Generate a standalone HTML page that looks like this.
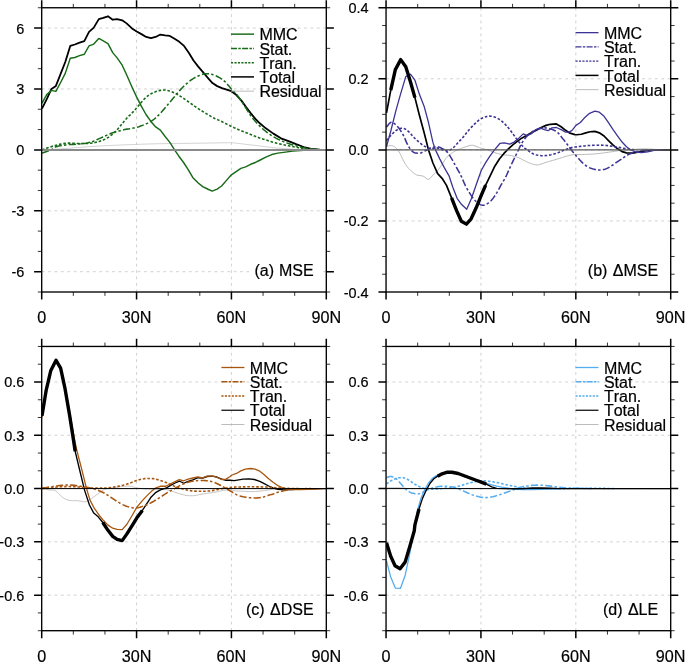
<!DOCTYPE html>
<html><head><meta charset="utf-8"><title>chart</title>
<style>
html,body{margin:0;padding:0;background:#fff}
svg{display:block;will-change:transform}
text{font-kerning:none;stroke:#000;stroke-width:0.2px}
.t{font-family:"Liberation Sans",sans-serif;font-size:15.4px;fill:#000}
.x{font-family:"Liberation Sans",sans-serif;font-size:17.4px;fill:#000}
.l{font-family:"Liberation Sans",sans-serif;font-size:16px;fill:#000}
</style></head><body>
<svg width="685" height="662" viewBox="0 0 685 662">
<rect width="685" height="662" fill="#fff"/>
<defs>
<clipPath id="clipa"><rect x="41.7" y="7.75" width="284.6" height="284.25"/></clipPath>
<clipPath id="clipb"><rect x="386.05" y="7.75" width="284.65" height="284.25"/></clipPath>
<clipPath id="clipc"><rect x="41.7" y="346.45" width="284.6" height="284.25"/></clipPath>
<clipPath id="clipd"><rect x="386.05" y="346.45" width="284.65" height="284.25"/></clipPath>
</defs>
<g>
<path d="M136.57 7.75 V292 M231.43 7.75 V292 M41.7 271.7 H326.3 M41.7 210.79 H326.3 M41.7 149.88 H326.3 M41.7 88.96 H326.3 M41.7 28.05 H326.3" fill="none" stroke="#c2c2c2" stroke-width="0.75" stroke-dasharray="2.8 3.6"/>
<g clip-path="url(#clipa)">
<path d="M42 149.88 L43.72 149.79 L46.09 149.68 L48.91 149.55 L51.94 149.39 L54.97 149.23 L57.78 149.06 L60.41 148.88 L63.04 148.69 L65.67 148.48 L68.31 148.27 L70.94 148.05 L73.57 147.84 L76.2 147.64 L78.83 147.43 L81.46 147.22 L84.09 147.01 L86.72 146.81 L89.35 146.63 L91.98 146.45 L94.61 146.29 L97.24 146.14 L99.87 145.99 L102.5 145.85 L105.13 145.71 L107.76 145.58 L110.39 145.46 L113.03 145.34 L115.66 145.22 L118.29 145.11 L120.92 145 L123.55 144.89 L126.18 144.79 L128.81 144.68 L131.44 144.58 L134.07 144.49 L136.7 144.39 L139.26 144.3 L141.73 144.21 L144.2 144.13 L146.75 144.04 L149.49 143.96 L152.48 143.89 L155.76 143.81 L159.26 143.74 L162.94 143.67 L166.75 143.6 L170.64 143.54 L174.58 143.48 L178.61 143.42 L182.76 143.37 L187.01 143.33 L191.3 143.28 L195.59 143.23 L199.83 143.17 L204.26 143.11 L208.95 143.03 L213.64 142.95 L218.07 142.88 L221.97 142.81 L225.09 142.77 L227.17 142.73 L228.4 142.69 L229.09 142.67 L229.6 142.66 L230.26 142.69 L231.4 142.77 L233 142.89 L234.77 143.06 L236.69 143.26 L238.73 143.49 L240.87 143.73 L243.08 143.99 L245.4 144.26 L247.87 144.55 L250.44 144.86 L253.05 145.18 L255.67 145.5 L258.23 145.81 L260.76 146.13 L263.28 146.45 L265.81 146.77 L268.33 147.08 L270.86 147.37 L273.38 147.64 L275.91 147.88 L278.43 148.11 L280.96 148.31 L283.49 148.51 L286.01 148.69 L288.54 148.86 L290.98 149.03 L293.32 149.18 L295.66 149.33 L298.1 149.46 L300.74 149.58 L303.69 149.67 L307.26 149.74 L311.45 149.79 L315.84 149.82 L320.02 149.84 L323.58 149.86 L326.1 149.88" fill="none" stroke="#c6c6c6" stroke-width="0.8" stroke-linejoin="round"/>
<path d="M42 108.66 L46.74 99.12 L51.47 88.96 L55.89 85.92 L60.62 73.94 L65.36 61.76 L70.25 45.92 L74.83 44.5 L79.56 42.67 L84.3 41.05 L89.03 31.91 L93.77 27.65 L98.82 19.12 L103.24 17.9 L107.97 16.28 L112.71 19.73 L117.13 19.12 L122.18 20.34 L126.6 23.38 L131.97 28.46 L136.7 31.51 L141.44 34.14 L146.17 36.99 L150.91 38.21 L155.64 36.99 L160.38 34.55 L165.11 35.36 L169.85 35.97 L174.58 38.81 L179.31 41.86 L184.05 45.92 L189.1 53.23 L193.52 60.54 L198.25 66.63 L202.99 72.11 L207.41 77.39 L212.46 83.08 L217.2 86.12 L221.93 88.15 L226.67 89.57 L231.4 91.2 L236.45 95.06 L241.82 101.15 L246.24 107.24 L250.66 113.13 L255.39 118.81 L259.81 123.28 L265.81 128.35 L273.38 133.63 L280.96 138.3 L288.54 141.14 L296.11 144.19 L303.69 147.03 L311.26 148.86 L319.79 149.67 L326.1 149.88" fill="none" stroke="#000" stroke-width="1.8" stroke-linejoin="round"/>
<path d="M42 103.18 L46.74 94.65 L51.47 90.39 L55.89 91.4 L60.62 82.47 L65.36 73.13 L70.25 58.31 L74.83 57.49 L79.56 55.67 L84.3 54.25 L89.03 45.92 L93.77 44.09 L98.82 38.41 L103.24 40.84 L107.97 43.69 L112.71 52.62 L117.13 57.9 L122.18 65.21 L126.6 74.75 L131.97 86.93 L136.7 97.09 L141.44 106.43 L146.17 114.75 L150.91 121.45 L155.64 126.93 L160.38 130.18 L165.11 136.47 L169.85 142.36 L174.58 149.88 L178.68 155.97 L183.42 162.26 L188.47 170.18 L192.89 177.69 L198.25 182.97 L202.67 186.62 L208.04 189.26 L212.14 191.09 L217.2 189.06 L221.61 186.02 L226.67 180.13 L231.4 174.85 L236.14 171.6 L240.87 168.35 L245.61 166.93 L250.66 164.29 L255.39 162.46 L259.81 160.23 L265.81 157.18 L271.81 154.54 L277.8 153.12 L285.38 152.11 L292.96 151.09 L303.69 150.28 L312.53 149.88" fill="none" stroke="#176b17" stroke-width="1.45" stroke-linejoin="round"/>
<path d="M42 153.12 L43.01 152.77 L44.43 152.27 L46.1 151.69 L47.85 151.06 L49.48 150.44 L50.84 149.88 L51.84 149.34 L52.63 148.8 L53.3 148.27 L54 147.75 L54.82 147.27 L55.89 146.83 L57.22 146.43 L58.71 146.06 L60.33 145.73 L62.05 145.42 L63.84 145.14 L65.68 144.9 L67.58 144.71 L69.6 144.58 L71.69 144.48 L73.81 144.39 L75.92 144.26 L77.99 144.09 L80.02 143.88 L82.07 143.67 L84.1 143.44 L86.11 143.16 L88.08 142.81 L89.98 142.36 L91.79 141.81 L93.5 141.17 L95.17 140.45 L96.84 139.69 L98.57 138.9 L100.4 138.1 L102.34 137.25 L104.37 136.34 L106.46 135.4 L108.56 134.47 L110.65 133.59 L112.71 132.82 L114.8 132.13 L116.97 131.5 L119.13 130.92 L121.2 130.41 L123.09 129.95 L124.7 129.57 L125.98 129.29 L126.98 129.11 L127.79 128.99 L128.53 128.91 L129.3 128.81 L130.2 128.66 L131.22 128.47 L132.27 128.29 L133.36 128.09 L134.46 127.88 L135.58 127.63 L136.7 127.34 L137.83 127.01 L138.97 126.65 L140.12 126.25 L141.29 125.83 L142.46 125.38 L143.64 124.9 L144.84 124.41 L146.06 123.89 L147.29 123.35 L148.52 122.77 L149.73 122.14 L150.91 121.45 L152.05 120.69 L153.18 119.87 L154.3 119 L155.39 118.09 L156.47 117.14 L157.53 116.17 L158.57 115.17 L159.58 114.12 L160.57 113.04 L161.56 111.93 L162.54 110.81 L163.53 109.67 L164.53 108.52 L165.53 107.35 L166.53 106.16 L167.53 104.96 L168.53 103.76 L169.53 102.57 L170.53 101.38 L171.53 100.19 L172.53 99 L173.53 97.82 L174.53 96.63 L175.53 95.46 L176.53 94.29 L177.53 93.1 L178.53 91.92 L179.53 90.76 L180.53 89.64 L181.52 88.56 L182.52 87.53 L183.52 86.53 L184.52 85.56 L185.52 84.63 L186.52 83.74 L187.52 82.87 L188.52 82.04 L189.51 81.24 L190.5 80.47 L191.5 79.74 L192.5 79.05 L193.52 78.41 L194.56 77.8 L195.61 77.23 L196.68 76.71 L197.74 76.22 L198.8 75.77 L199.83 75.36 L200.85 74.98 L201.86 74.63 L202.85 74.32 L203.84 74.06 L204.84 73.86 L205.83 73.74 L206.83 73.69 L207.83 73.71 L208.83 73.79 L209.83 73.92 L210.83 74.11 L211.83 74.35 L212.83 74.63 L213.83 74.97 L214.83 75.36 L215.83 75.8 L216.83 76.27 L217.83 76.78 L218.85 77.34 L219.9 77.95 L220.94 78.6 L221.97 79.27 L222.93 79.96 L223.82 80.64 L224.62 81.33 L225.36 82.04 L226.03 82.76 L226.68 83.48 L227.3 84.2 L227.93 84.9 L228.52 85.58 L229.07 86.23 L229.6 86.87 L230.15 87.53 L230.74 88.22 L231.4 88.96 L232.15 89.75 L232.95 90.55 L233.81 91.39 L234.69 92.27 L235.57 93.22 L236.45 94.24 L237.34 95.37 L238.25 96.6 L239.17 97.9 L240.09 99.21 L240.97 100.51 L241.82 101.76 L242.61 102.94 L243.36 104.1 L244.09 105.25 L244.8 106.38 L245.51 107.52 L246.24 108.66 L246.97 109.82 L247.7 111 L248.43 112.17 L249.16 113.34 L249.9 114.47 L250.66 115.56 L251.43 116.62 L252.22 117.64 L253.02 118.65 L253.82 119.62 L254.62 120.55 L255.39 121.45 L256.13 122.29 L256.83 123.07 L257.52 123.82 L258.23 124.56 L258.99 125.32 L259.81 126.12 L260.7 126.96 L261.63 127.83 L262.61 128.72 L263.63 129.62 L264.7 130.51 L265.81 131.4 L266.98 132.3 L268.22 133.21 L269.5 134.13 L270.8 135.02 L272.1 135.88 L273.38 136.68 L274.65 137.41 L275.91 138.1 L277.17 138.75 L278.43 139.36 L279.7 139.96 L280.96 140.54 L282.22 141.1 L283.49 141.64 L284.75 142.16 L286.01 142.66 L287.27 143.13 L288.54 143.58 L289.8 144 L291.06 144.39 L292.32 144.76 L293.59 145.11 L294.85 145.46 L296.11 145.81 L297.37 146.17 L298.64 146.54 L299.9 146.89 L301.16 147.24 L302.43 147.56 L303.69 147.84 L304.92 148.1 L306.12 148.33 L307.32 148.53 L308.55 148.72 L309.85 148.89 L311.26 149.06 L312.92 149.23 L314.82 149.39 L316.79 149.55 L318.65 149.68 L320.24 149.79 L321.37 149.88" fill="none" stroke="#176b17" stroke-width="1.55" stroke-dasharray="7.2 2.2 2.5 2.3" stroke-linejoin="round"/>
<path d="M42 149.88 L43.46 149.36 L45.48 148.63 L47.88 147.78 L50.44 146.9 L52.97 146.08 L55.26 145.41 L57.33 144.88 L59.34 144.4 L61.31 143.99 L63.28 143.64 L65.25 143.37 L67.25 143.17 L69.28 143.1 L71.3 143.15 L73.33 143.28 L75.38 143.42 L77.45 143.54 L79.56 143.58 L81.73 143.58 L83.95 143.57 L86.19 143.54 L88.44 143.45 L90.66 143.27 L92.82 142.97 L94.95 142.56 L97.07 142.07 L99.16 141.49 L101.21 140.81 L103.2 140.02 L105.13 139.11 L106.96 138.13 L108.69 137.07 L110.36 135.9 L112.03 134.59 L113.74 133.11 L115.55 131.4 L117.57 129.27 L119.78 126.7 L122.03 123.95 L124.18 121.28 L126.07 118.94 L127.55 117.19 L128.48 116.18 L128.98 115.73 L129.21 115.63 L129.37 115.61 L129.64 115.47 L130.2 114.95 L131.03 114.08 L132 113.04 L133.08 111.87 L134.24 110.59 L135.45 109.24 L136.7 107.85 L138.01 106.32 L139.43 104.63 L140.89 102.86 L142.38 101.12 L143.83 99.5 L145.22 98.1 L146.54 96.93 L147.82 95.91 L149.07 95 L150.31 94.21 L151.55 93.49 L152.8 92.82 L154.11 92.23 L155.46 91.72 L156.82 91.3 L158.13 90.94 L159.33 90.64 L160.38 90.39 L161.21 90.18 L161.86 90.05 L162.41 89.97 L162.92 89.93 L163.48 89.94 L164.16 89.98 L164.96 90.05 L165.81 90.16 L166.71 90.31 L167.64 90.5 L168.58 90.73 L169.53 90.99 L170.47 91.29 L171.42 91.62 L172.39 91.98 L173.39 92.4 L174.43 92.88 L175.53 93.43 L176.7 94.07 L177.94 94.8 L179.22 95.59 L180.52 96.42 L181.82 97.26 L183.1 98.1 L184.37 98.95 L185.63 99.82 L186.89 100.7 L188.15 101.6 L189.42 102.49 L190.68 103.38 L191.94 104.27 L193.2 105.16 L194.47 106.06 L195.73 106.94 L196.99 107.81 L198.25 108.66 L199.52 109.47 L200.78 110.27 L202.04 111.04 L203.31 111.81 L204.57 112.57 L205.83 113.33 L207.09 114.1 L208.36 114.87 L209.62 115.64 L210.88 116.39 L212.14 117.11 L213.41 117.8 L214.68 118.43 L215.96 119.02 L217.23 119.58 L218.5 120.13 L219.76 120.68 L220.98 121.25 L222.17 121.82 L223.32 122.39 L224.46 122.96 L225.59 123.53 L226.74 124.11 L227.93 124.7 L229.15 125.3 L230.41 125.92 L231.68 126.55 L232.95 127.17 L234.23 127.78 L235.5 128.35 L236.77 128.9 L238.03 129.41 L239.29 129.91 L240.55 130.41 L241.82 130.9 L243.08 131.4 L244.34 131.91 L245.61 132.41 L246.87 132.92 L248.13 133.43 L249.39 133.94 L250.66 134.44 L251.92 134.96 L253.18 135.48 L254.44 136.01 L255.71 136.52 L256.97 137.02 L258.23 137.49 L259.49 137.93 L260.76 138.35 L262.02 138.75 L263.28 139.14 L264.55 139.53 L265.81 139.93 L267.07 140.34 L268.33 140.76 L269.6 141.18 L270.86 141.6 L272.12 141.99 L273.38 142.36 L274.65 142.7 L275.91 143.02 L277.17 143.33 L278.43 143.62 L279.7 143.9 L280.96 144.19 L282.22 144.47 L283.49 144.75 L284.75 145.03 L286.01 145.3 L287.27 145.56 L288.54 145.81 L289.8 146.07 L291.06 146.31 L292.32 146.55 L293.59 146.78 L294.85 147.01 L296.11 147.24 L297.37 147.46 L298.64 147.67 L299.9 147.88 L301.16 148.09 L302.43 148.28 L303.69 148.45 L304.92 148.61 L306.12 148.76 L307.32 148.9 L308.55 149.03 L309.85 149.15 L311.26 149.27 L312.92 149.39 L314.82 149.51 L316.79 149.62 L318.65 149.72 L320.24 149.81 L321.37 149.88" fill="none" stroke="#176b17" stroke-width="1.6" stroke-dasharray="2.6 1.85" stroke-linejoin="round"/>
<path d="M41.7 149.88 H326.3" stroke="#8a8a8a" stroke-width="2.0"/>
</g>
<rect x="41.7" y="7.75" width="284.6" height="284.25" fill="none" stroke="#000" stroke-width="1.35"/>
<path d="M41.7 7.75 v-7.6 M41.7 292 v7.6 M136.57 7.75 v-7.6 M136.57 292 v7.6 M231.43 7.75 v-7.6 M231.43 292 v7.6 M326.3 7.75 v-7.6 M326.3 292 v7.6 M41.7 271.7 h-7.6 M326.3 271.7 h7.6 M41.7 210.79 h-7.6 M326.3 210.79 h7.6 M41.7 149.88 h-7.6 M326.3 149.88 h7.6 M41.7 88.96 h-7.6 M326.3 88.96 h7.6 M41.7 28.05 h-7.6 M326.3 28.05 h7.6" fill="none" stroke="#000" stroke-width="1.5"/>
<path d="M73.32 7.75 v-3.9 M73.32 292 v3.9 M104.94 7.75 v-3.9 M104.94 292 v3.9 M168.19 7.75 v-3.9 M168.19 292 v3.9 M199.81 7.75 v-3.9 M199.81 292 v3.9 M263.06 7.75 v-3.9 M263.06 292 v3.9 M294.68 7.75 v-3.9 M294.68 292 v3.9 M41.7 292 h-3.9 M326.3 292 h3.9 M41.7 251.39 h-3.9 M326.3 251.39 h3.9 M41.7 231.09 h-3.9 M326.3 231.09 h3.9 M41.7 190.48 h-3.9 M326.3 190.48 h3.9 M41.7 170.18 h-3.9 M326.3 170.18 h3.9 M41.7 129.57 h-3.9 M326.3 129.57 h3.9 M41.7 109.27 h-3.9 M326.3 109.27 h3.9 M41.7 68.66 h-3.9 M326.3 68.66 h3.9 M41.7 48.36 h-3.9 M326.3 48.36 h3.9 M41.7 7.75 h-3.9 M326.3 7.75 h3.9" fill="none" stroke="#000" stroke-width="0.8"/>
<text transform="translate(24.3 277.2) scale(0.94 1)" text-anchor="end" class="t">-6</text>
<text transform="translate(24.3 216.29) scale(0.94 1)" text-anchor="end" class="t">-3</text>
<text transform="translate(24.3 155.38) scale(0.94 1)" text-anchor="end" class="t">0</text>
<text transform="translate(24.3 94.46) scale(0.94 1)" text-anchor="end" class="t">3</text>
<text transform="translate(24.3 33.55) scale(0.94 1)" text-anchor="end" class="t">6</text>
<text transform="translate(41.7 323.05) scale(0.93 1)" text-anchor="middle" class="x">0</text>
<text transform="translate(136.57 323.05) scale(0.93 1)" text-anchor="middle" class="x">30N</text>
<text transform="translate(231.43 323.05) scale(0.93 1)" text-anchor="middle" class="x">60N</text>
<text transform="translate(326.3 323.05) scale(0.93 1)" text-anchor="middle" class="x">90N</text>
<path d="M231 34.15 h23" stroke="#176b17" stroke-width="1.45"/>
<text x="259.4" y="40.25" class="l">MMC</text>
<path d="M231 48.4 h23" stroke="#176b17" stroke-width="1.45" stroke-dasharray="6 1.35 2.45 1.3"/>
<text x="259.4" y="54.5" class="l">Stat.</text>
<path d="M231 62.65 h23" stroke="#176b17" stroke-width="1.45" stroke-dasharray="2.15 1.3"/>
<text x="259.4" y="68.75" class="l">Tran.</text>
<path d="M231 76.9 h23" stroke="#000" stroke-width="1.5"/>
<text x="259.4" y="83" class="l">Total</text>
<path d="M231 91.15 h23" stroke="#b4b4b4" stroke-width="0.9"/>
<text x="259.4" y="97.25" class="l">Residual</text>
<rect x="249.1" y="261.5" width="71" height="18" fill="#fff"/>
<text x="313.7" y="275.9" text-anchor="end" class="l" style="word-spacing:0.6px">(a) MSE</text>
</g>
<g>
<path d="M480.93 7.75 V292 M575.82 7.75 V292 M386.05 220.94 H670.7 M386.05 149.88 H670.7 M386.05 78.81 H670.7" fill="none" stroke="#c2c2c2" stroke-width="0.75" stroke-dasharray="2.8 3.6"/>
<g clip-path="url(#clipb)">
<path d="M386.5 146.32 L387.06 146.21 L387.83 146.03 L388.75 145.82 L389.73 145.65 L390.69 145.56 L391.55 145.61 L392.33 145.79 L393.1 146.05 L393.84 146.4 L394.57 146.83 L395.28 147.34 L395.97 147.92 L396.64 148.58 L397.28 149.33 L397.91 150.15 L398.52 151.05 L399.14 152.03 L399.76 153.07 L400.39 154.23 L401 155.52 L401.62 156.88 L402.24 158.26 L402.88 159.62 L403.55 160.89 L404.25 162.1 L404.97 163.3 L405.7 164.47 L406.45 165.59 L407.21 166.65 L407.97 167.64 L408.75 168.55 L409.54 169.4 L410.34 170.19 L411.14 170.93 L411.93 171.62 L412.71 172.26 L413.45 172.86 L414.15 173.4 L414.84 173.9 L415.55 174.35 L416.31 174.75 L417.13 175.1 L418.05 175.36 L419.04 175.51 L420.07 175.61 L421.12 175.72 L422.15 175.89 L423.13 176.17 L424.07 176.66 L425 177.35 L425.91 178.1 L426.8 178.77 L427.67 179.24 L428.5 179.37 L429.29 179.09 L430.03 178.51 L430.75 177.72 L431.46 176.83 L432.18 175.92 L432.92 175.1 L433.69 174.37 L434.49 173.64 L435.29 172.9 L436.09 172.14 L436.88 171.34 L437.66 170.48 L438.41 169.57 L439.15 168.6 L439.89 167.6 L440.61 166.56 L441.34 165.51 L442.08 164.44 L442.8 163.33 L443.52 162.17 L444.23 160.98 L444.95 159.81 L445.71 158.7 L446.5 157.69 L447.34 156.78 L448.24 155.93 L449.16 155.14 L450.09 154.4 L451 153.72 L451.87 153.07 L452.68 152.49 L453.44 151.97 L454.19 151.51 L454.95 151.07 L455.75 150.65 L456.6 150.23 L457.5 149.82 L458.4 149.43 L459.35 149.06 L460.35 148.7 L461.42 148.32 L462.6 147.92 L463.94 147.45 L465.43 146.89 L467 146.33 L468.58 145.83 L470.08 145.45 L471.44 145.26 L472.68 145.3 L473.84 145.55 L474.94 145.91 L475.96 146.33 L476.9 146.73 L477.76 147.03 L478.46 147.24 L478.99 147.4 L479.44 147.54 L479.9 147.69 L480.47 147.87 L481.23 148.1 L482.22 148.38 L483.36 148.7 L484.61 149.05 L485.91 149.43 L487.22 149.82 L488.5 150.23 L489.74 150.68 L491 151.16 L492.27 151.67 L493.54 152.18 L494.81 152.65 L496.07 153.07 L497.34 153.44 L498.6 153.78 L499.86 154.09 L501.13 154.38 L502.39 154.63 L503.65 154.85 L504.92 155.01 L506.18 155.11 L507.44 155.17 L508.71 155.24 L509.97 155.36 L511.23 155.56 L512.5 155.84 L513.76 156.16 L515.02 156.53 L516.28 156.94 L517.55 157.38 L518.81 157.87 L520.09 158.42 L521.4 159.05 L522.7 159.72 L523.98 160.4 L525.22 161.03 L526.39 161.6 L527.48 162.11 L528.51 162.59 L529.49 163.03 L530.45 163.44 L531.41 163.79 L532.39 164.09 L533.37 164.35 L534.33 164.57 L535.29 164.75 L536.27 164.86 L537.3 164.89 L538.39 164.8 L539.56 164.56 L540.8 164.19 L542.08 163.73 L543.38 163.23 L544.69 162.74 L545.97 162.31 L547.23 161.94 L548.49 161.58 L549.76 161.23 L551.02 160.89 L552.28 160.54 L553.55 160.18 L554.81 159.8 L556.07 159.42 L557.34 159.04 L558.6 158.65 L559.86 158.26 L561.13 157.87 L562.4 157.47 L563.7 157.05 L564.99 156.64 L566.27 156.24 L567.51 155.87 L568.7 155.56 L569.83 155.3 L570.9 155.07 L571.94 154.88 L572.96 154.72 L573.98 154.6 L575.02 154.49 L576.02 154.44 L576.97 154.43 L577.92 154.45 L578.93 154.48 L580.04 154.5 L581.33 154.49 L582.83 154.46 L584.49 154.43 L586.27 154.38 L588.11 154.32 L589.95 154.24 L591.76 154.14 L593.55 154 L595.38 153.84 L597.22 153.66 L599.04 153.47 L600.81 153.27 L602.49 153.07 L604.05 152.88 L605.51 152.68 L606.91 152.48 L608.32 152.28 L609.77 152.06 L611.33 151.83 L613.01 151.57 L614.77 151.29 L616.58 151 L618.42 150.71 L620.26 150.45 L622.07 150.23 L623.88 150.06 L625.72 149.93 L627.56 149.82 L629.37 149.72 L631.13 149.63 L632.81 149.52 L634.38 149.39 L635.85 149.24 L637.27 149.1 L638.68 148.97 L640.12 148.87 L641.65 148.81 L643.25 148.8 L644.89 148.84 L646.56 148.9 L648.27 148.98 L650 149.07 L651.75 149.16 L653.58 149.27 L655.48 149.4 L657.42 149.54 L659.32 149.68 L661.14 149.79 L662.81 149.88 L664.4 149.92 L665.96 149.93 L667.44 149.92 L668.77 149.9 L669.88 149.88 L670.7 149.88" fill="none" stroke="#a8a8a8" stroke-width="0.8" stroke-linejoin="round"/>
<path d="M386.5 112.92 L390.76 90.18 L395.34 69.57 L400.71 59.63 L405.76 66.73 L410.5 82.01 L414.92 97.64 L419.34 115.05 L424.08 132.46 L428.5 149.88 L432.92 163.02 L437.66 173.68 L442.08 178.3 L446.5 185.41 L451.55 197.84 L456.6 210.63 L461.34 221.29 L466.39 224.14 L471.13 218.81 L476.18 207.79 L481.23 195.36 L485.65 185.05 L490.39 175.28 L494.81 166.22 L499.55 158.76 L503.97 153.43 L508.07 149.16 L512.81 144.9 L517.23 141.35 L521.65 138.15 L527.02 135.31 L532.39 132.11 L536.81 129.98 L541.23 127.49 L545.97 125.36 L550.39 124.29 L556.39 123.94 L561.13 126.78 L565.55 130.33 L569.97 133.18 L575.02 134.6 L576.6 134.77 L581.33 134.24 L585.76 132.82 L590.18 131.75 L594.91 131.4 L599.33 132.82 L604.07 136.02 L608.49 140.64 L612.91 144.9 L617.65 148.81 L622.07 151.65 L626.49 152.9 L632.81 153.07 L638.81 152.01 L644.81 150.94 L652.38 150.23 L662.81 149.88 L670.7 149.88" fill="none" stroke="#000" stroke-width="1.7" stroke-linejoin="round"/>
<path d="M386.5 146.68 L390.61 131.75 L395.97 110.44 L400.55 94.09 L405.76 76.68 L410.5 74.19 L414.92 80.23 L419.34 94.09 L424.08 106.17 L428.5 122.52 L432.92 142.41 L435.45 149.88 L439.87 159.11 L444.29 167.64 L449.02 175.81 L452.81 187.18 L457.23 198.55 L461.66 204.59 L466.71 209.21 L471.44 198.55 L476.18 184.7 L481.23 170.48 L485.65 162.67 L490.08 155.92 L494.5 149.88 L499.86 143.48 L504.29 142.77 L509.65 144.19 L514.07 142.06 L518.81 138.15 L523.23 133.89 L527.02 135.66 L531.44 133.71 L535.23 129.98 L539.97 127.85 L544.39 129.62 L548.18 130.69 L551.97 127.85 L556.39 127.49 L561.13 129.62 L565.55 132.11 L569.34 132.11 L572.49 129.98 L575.97 125.36 L580.39 122.52 L585.12 117.19 L589.55 113.28 L594.91 111.15 L599.33 112.21 L604.07 116.3 L608.49 122.52 L612.91 129.27 L617.65 136.02 L622.07 142.06 L626.49 146.68 L631.23 150.23 L635.65 152.01 L641.65 152.72 L647.65 151.83 L655.23 150.23 L662.81 149.88" fill="none" stroke="#3c3494" stroke-width="1.3" stroke-linejoin="round"/>
<path d="M386.5 127.14 L386.95 126.57 L387.58 125.73 L388.32 124.76 L389.11 123.81 L389.89 123.01 L390.61 122.52 L391.24 122.32 L391.86 122.31 L392.46 122.45 L393.07 122.73 L393.71 123.11 L394.39 123.58 L395.13 124.16 L395.91 124.87 L396.72 125.69 L397.54 126.6 L398.35 127.56 L399.13 128.56 L399.89 129.59 L400.63 130.67 L401.36 131.81 L402.09 133.02 L402.82 134.3 L403.55 135.66 L404.29 137.18 L405.01 138.85 L405.74 140.6 L406.48 142.34 L407.22 143.98 L407.97 145.43 L408.76 146.73 L409.56 147.95 L410.38 149.06 L411.19 150.07 L411.97 150.93 L412.71 151.65 L413.39 152.18 L414.02 152.54 L414.62 152.76 L415.22 152.9 L415.84 152.98 L416.5 153.07 L417.19 153.16 L417.89 153.22 L418.61 153.24 L419.35 153.2 L420.12 153.09 L420.92 152.9 L421.75 152.6 L422.62 152.2 L423.51 151.73 L424.42 151.22 L425.35 150.71 L426.29 150.23 L427.26 149.74 L428.26 149.21 L429.29 148.68 L430.31 148.17 L431.32 147.73 L432.29 147.39 L433.22 147.14 L434.14 146.95 L435.03 146.82 L435.91 146.76 L436.79 146.77 L437.66 146.85 L438.52 147.02 L439.38 147.26 L440.22 147.58 L441.06 147.95 L441.89 148.36 L442.71 148.81 L443.52 149.27 L444.32 149.76 L445.12 150.29 L445.9 150.88 L446.68 151.57 L447.45 152.36 L448.2 153.28 L448.93 154.31 L449.66 155.43 L450.38 156.61 L451.11 157.85 L451.87 159.11 L452.64 160.44 L453.43 161.84 L454.23 163.29 L455.04 164.76 L455.83 166.22 L456.6 167.64 L457.36 169 L458.1 170.33 L458.83 171.64 L459.56 172.97 L460.29 174.35 L461.02 175.81 L461.76 177.39 L462.49 179.06 L463.21 180.79 L463.95 182.51 L464.69 184.19 L465.44 185.76 L466.22 187.25 L467.01 188.7 L467.81 190.09 L468.61 191.43 L469.41 192.72 L470.18 193.93 L470.94 195.09 L471.68 196.18 L472.41 197.22 L473.14 198.2 L473.87 199.12 L474.6 199.97 L475.35 200.78 L476.1 201.53 L476.85 202.22 L477.6 202.84 L478.32 203.4 L479.02 203.88 L479.69 204.29 L480.34 204.63 L480.98 204.9 L481.6 205.11 L482.21 205.24 L482.81 205.3 L483.39 205.3 L483.95 205.22 L484.49 205.08 L485.05 204.87 L485.64 204.59 L486.29 204.24 L487 203.83 L487.76 203.36 L488.56 202.82 L489.37 202.2 L490.2 201.49 L491.02 200.68 L491.85 199.77 L492.69 198.74 L493.55 197.62 L494.4 196.43 L495.25 195.2 L496.07 193.93 L496.88 192.61 L497.68 191.21 L498.46 189.76 L499.24 188.29 L500.03 186.83 L500.81 185.41 L501.6 184.06 L502.38 182.76 L503.16 181.48 L503.95 180.16 L504.74 178.76 L505.55 177.23 L506.38 175.55 L507.22 173.73 L508.07 171.84 L508.93 169.92 L509.77 168.03 L510.6 166.22 L511.43 164.46 L512.26 162.69 L513.09 160.96 L513.89 159.28 L514.64 157.71 L515.34 156.27 L515.96 155 L516.51 153.88 L517.01 152.85 L517.5 151.88 L517.99 150.9 L518.5 149.88 L519 148.81 L519.49 147.76 L519.98 146.7 L520.48 145.64 L521.04 144.57 L521.65 143.48 L522.35 142.34 L523.13 141.15 L523.94 139.95 L524.78 138.78 L525.6 137.69 L526.39 136.73 L527.14 135.9 L527.89 135.18 L528.62 134.53 L529.35 133.94 L530.08 133.38 L530.81 132.82 L531.54 132.27 L532.27 131.74 L533 131.24 L533.73 130.78 L534.48 130.36 L535.23 129.98 L536.01 129.65 L536.8 129.37 L537.6 129.13 L538.4 128.92 L539.19 128.74 L539.97 128.56 L540.72 128.38 L541.47 128.21 L542.2 128.07 L542.93 127.95 L543.66 127.87 L544.39 127.85 L545.12 127.87 L545.85 127.95 L546.58 128.07 L547.31 128.21 L548.05 128.38 L548.81 128.56 L549.58 128.74 L550.38 128.92 L551.18 129.13 L551.98 129.37 L552.77 129.65 L553.55 129.98 L554.3 130.34 L555.04 130.73 L555.78 131.15 L556.51 131.64 L557.23 132.19 L557.97 132.82 L558.7 133.56 L559.43 134.39 L560.16 135.28 L560.89 136.23 L561.63 137.19 L562.39 138.15 L563.16 139.12 L563.96 140.11 L564.76 141.13 L565.56 142.15 L566.35 143.18 L567.12 144.19 L567.87 145.2 L568.6 146.2 L569.32 147.21 L570.04 148.22 L570.78 149.22 L571.55 150.23 L572.35 151.25 L573.19 152.27 L574.05 153.29 L574.91 154.31 L575.77 155.31 L576.6 156.27 L577.41 157.22 L578.21 158.15 L579.01 159.07 L579.79 159.96 L580.57 160.8 L581.33 161.6 L582.09 162.35 L582.83 163.06 L583.57 163.73 L584.29 164.36 L585.02 164.96 L585.76 165.51 L586.49 166.02 L587.22 166.48 L587.95 166.91 L588.68 167.3 L589.42 167.66 L590.18 168 L590.95 168.3 L591.74 168.58 L592.54 168.83 L593.35 169.05 L594.14 169.24 L594.91 169.42 L595.66 169.57 L596.4 169.7 L597.12 169.81 L597.85 169.88 L598.58 169.93 L599.33 169.95 L600.11 169.94 L600.9 169.9 L601.7 169.83 L602.5 169.73 L603.3 169.59 L604.07 169.42 L604.83 169.2 L605.57 168.95 L606.3 168.66 L607.03 168.34 L607.76 168 L608.49 167.64 L609.22 167.26 L609.95 166.84 L610.68 166.41 L611.42 165.95 L612.16 165.47 L612.91 164.98 L613.69 164.45 L614.48 163.88 L615.28 163.3 L616.08 162.71 L616.87 162.14 L617.65 161.6 L618.4 161.1 L619.15 160.63 L619.88 160.17 L620.61 159.71 L621.34 159.25 L622.07 158.76 L622.8 158.23 L623.53 157.68 L624.26 157.11 L624.99 156.56 L625.74 156.04 L626.49 155.56 L627.25 155.14 L628 154.76 L628.76 154.41 L629.54 154.07 L630.36 153.75 L631.23 153.43 L632.14 153.11 L633.08 152.8 L634.05 152.5 L635.06 152.2 L636.12 151.92 L637.23 151.65 L638.37 151.38 L639.54 151.11 L640.76 150.85 L642.03 150.61 L643.38 150.4 L644.81 150.23 L646.46 150.11 L648.36 150.02 L650.33 149.96 L652.2 149.93 L653.78 149.9 L654.91 149.88" fill="none" stroke="#3c3494" stroke-width="1.55" stroke-dasharray="7.2 2.2 2.5 2.3" stroke-linejoin="round"/>
<path d="M386.5 140.64 L387.04 139.97 L387.77 139.03 L388.65 137.93 L389.61 136.75 L390.6 135.61 L391.55 134.6 L392.5 133.66 L393.51 132.73 L394.53 131.82 L395.56 130.98 L396.58 130.23 L397.55 129.62 L398.49 129.13 L399.4 128.73 L400.3 128.42 L401.18 128.23 L402.05 128.15 L402.92 128.2 L403.77 128.38 L404.58 128.69 L405.39 129.11 L406.21 129.65 L407.06 130.29 L407.97 131.04 L408.96 131.96 L410 133.06 L411.07 134.26 L412.16 135.5 L413.24 136.71 L414.29 137.79 L415.32 138.79 L416.37 139.76 L417.41 140.68 L418.42 141.56 L419.38 142.38 L420.29 143.12 L421.1 143.79 L421.82 144.39 L422.5 144.92 L423.18 145.41 L423.9 145.88 L424.71 146.32 L425.62 146.77 L426.59 147.21 L427.61 147.62 L428.65 147.98 L429.69 148.26 L430.71 148.45 L431.71 148.49 L432.71 148.38 L433.71 148.2 L434.71 148.01 L435.71 147.9 L436.71 147.92 L437.72 148.12 L438.73 148.43 L439.75 148.82 L440.76 149.22 L441.75 149.59 L442.71 149.88 L443.66 150.09 L444.6 150.3 L445.53 150.46 L446.43 150.58 L447.28 150.63 L448.08 150.59 L448.81 150.45 L449.48 150.22 L450.11 149.92 L450.71 149.57 L451.29 149.2 L451.87 148.81 L452.43 148.4 L452.98 147.95 L453.5 147.48 L454.02 146.98 L454.52 146.47 L455.02 145.97 L455.49 145.47 L455.92 144.99 L456.35 144.5 L456.79 143.98 L457.29 143.41 L457.87 142.77 L458.51 142.09 L459.2 141.4 L459.94 140.66 L460.74 139.83 L461.63 138.89 L462.6 137.79 L463.7 136.48 L464.92 134.97 L466.21 133.33 L467.55 131.66 L468.89 130.04 L470.18 128.56 L471.49 127.15 L472.86 125.75 L474.23 124.4 L475.54 123.15 L476.73 122.03 L477.76 121.09 L478.55 120.39 L479.14 119.88 L479.61 119.52 L480.06 119.23 L480.57 118.94 L481.23 118.61 L482.06 118.21 L483 117.8 L484 117.4 L485.01 117.03 L486 116.71 L486.92 116.48 L487.76 116.31 L488.55 116.21 L489.33 116.15 L490.09 116.15 L490.86 116.2 L491.65 116.3 L492.47 116.44 L493.3 116.63 L494.14 116.86 L494.99 117.15 L495.84 117.5 L496.71 117.9 L497.58 118.36 L498.47 118.87 L499.37 119.44 L500.27 120.06 L501.18 120.73 L502.07 121.45 L502.97 122.22 L503.86 123.04 L504.76 123.9 L505.65 124.82 L506.55 125.78 L507.44 126.78 L508.34 127.84 L509.24 128.97 L510.15 130.14 L511.05 131.34 L511.93 132.54 L512.81 133.71 L513.67 134.87 L514.51 136.05 L515.34 137.23 L516.17 138.39 L517.01 139.53 L517.86 140.64 L518.74 141.72 L519.63 142.78 L520.53 143.82 L521.43 144.83 L522.33 145.78 L523.23 146.68 L524.13 147.5 L525.02 148.27 L525.92 148.99 L526.81 149.66 L527.71 150.31 L528.6 150.94 L529.49 151.56 L530.37 152.15 L531.24 152.72 L532.13 153.24 L533.04 153.72 L533.97 154.14 L534.93 154.49 L535.92 154.8 L536.93 155.05 L537.94 155.26 L538.96 155.43 L539.97 155.56 L540.97 155.65 L541.97 155.7 L542.97 155.72 L543.97 155.69 L544.97 155.64 L545.97 155.56 L546.97 155.45 L547.97 155.31 L548.97 155.14 L549.97 154.94 L550.97 154.73 L551.97 154.49 L552.97 154.25 L553.97 153.98 L554.97 153.69 L555.97 153.39 L556.97 153.06 L557.97 152.72 L558.97 152.34 L559.97 151.93 L560.97 151.5 L561.97 151.06 L562.97 150.63 L563.97 150.23 L564.98 149.84 L566 149.45 L567.03 149.08 L568.04 148.72 L569.02 148.39 L569.97 148.1 L570.89 147.85 L571.79 147.64 L572.67 147.45 L573.51 147.3 L574.3 147.16 L575.02 147.03 L575.6 146.94 L576.05 146.88 L576.44 146.84 L576.87 146.81 L577.42 146.76 L578.18 146.68 L579.17 146.56 L580.32 146.41 L581.59 146.24 L582.95 146.08 L584.35 145.92 L585.76 145.79 L587.19 145.67 L588.69 145.57 L590.24 145.47 L591.8 145.38 L593.37 145.31 L594.91 145.26 L596.46 145.21 L598.04 145.18 L599.61 145.17 L601.16 145.17 L602.65 145.2 L604.07 145.26 L605.39 145.35 L606.62 145.47 L607.8 145.62 L608.96 145.79 L610.13 145.97 L611.33 146.14 L612.58 146.33 L613.84 146.53 L615.1 146.73 L616.37 146.95 L617.65 147.17 L618.91 147.39 L620.16 147.62 L621.38 147.86 L622.6 148.11 L623.85 148.36 L625.14 148.59 L626.49 148.81 L628.03 149.02 L629.77 149.23 L631.54 149.43 L633.22 149.61 L634.63 149.76 L635.65 149.88" fill="none" stroke="#3c3494" stroke-width="1.6" stroke-dasharray="2.6 1.85" stroke-linejoin="round"/>
<path d="M390.76 90.18 L395.34 69.57 L400.71 59.63 L405.76 66.73 L410.5 82.01 L414.92 97.64" fill="none" stroke="#000" stroke-width="3.4" stroke-linejoin="round" stroke-linecap="butt"/>
<path d="M451.55 197.84 L456.6 210.63 L461.34 221.29 L466.39 224.14 L471.13 218.81 L476.18 207.79 L481.23 195.36 L485.65 185.05" fill="none" stroke="#000" stroke-width="3.4" stroke-linejoin="round" stroke-linecap="butt"/>
<path d="M386.05 149.88 H670.7" stroke="#5a5a5a" stroke-width="1.4"/>
</g>
<rect x="386.05" y="7.75" width="284.65" height="284.25" fill="none" stroke="#000" stroke-width="1.35"/>
<path d="M386.05 7.75 v-7.6 M386.05 292 v7.6 M480.93 7.75 v-7.6 M480.93 292 v7.6 M575.82 7.75 v-7.6 M575.82 292 v7.6 M670.7 7.75 v-7.6 M670.7 292 v7.6 M386.05 292 h-7.6 M670.7 292 h7.6 M386.05 220.94 h-7.6 M670.7 220.94 h7.6 M386.05 149.88 h-7.6 M670.7 149.88 h7.6 M386.05 78.81 h-7.6 M670.7 78.81 h7.6 M386.05 7.75 h-7.6 M670.7 7.75 h7.6" fill="none" stroke="#000" stroke-width="1.5"/>
<path d="M417.68 7.75 v-3.9 M417.68 292 v3.9 M449.31 7.75 v-3.9 M449.31 292 v3.9 M512.56 7.75 v-3.9 M512.56 292 v3.9 M544.19 7.75 v-3.9 M544.19 292 v3.9 M607.44 7.75 v-3.9 M607.44 292 v3.9 M639.07 7.75 v-3.9 M639.07 292 v3.9 M386.05 274.23 h-3.9 M670.7 274.23 h3.9 M386.05 256.47 h-3.9 M670.7 256.47 h3.9 M386.05 238.7 h-3.9 M670.7 238.7 h3.9 M386.05 203.17 h-3.9 M670.7 203.17 h3.9 M386.05 185.41 h-3.9 M670.7 185.41 h3.9 M386.05 167.64 h-3.9 M670.7 167.64 h3.9 M386.05 132.11 h-3.9 M670.7 132.11 h3.9 M386.05 114.34 h-3.9 M670.7 114.34 h3.9 M386.05 96.58 h-3.9 M670.7 96.58 h3.9 M386.05 61.05 h-3.9 M670.7 61.05 h3.9 M386.05 43.28 h-3.9 M670.7 43.28 h3.9 M386.05 25.52 h-3.9 M670.7 25.52 h3.9" fill="none" stroke="#000" stroke-width="0.8"/>
<text transform="translate(368.65 297.5) scale(0.94 1)" text-anchor="end" class="t">-0.4</text>
<text transform="translate(368.65 226.44) scale(0.94 1)" text-anchor="end" class="t">-0.2</text>
<text transform="translate(368.65 155.38) scale(0.94 1)" text-anchor="end" class="t">0.0</text>
<text transform="translate(368.65 84.31) scale(0.94 1)" text-anchor="end" class="t">0.2</text>
<text transform="translate(368.65 13.25) scale(0.94 1)" text-anchor="end" class="t">0.4</text>
<text transform="translate(386.05 323.05) scale(0.93 1)" text-anchor="middle" class="x">0</text>
<text transform="translate(480.93 323.05) scale(0.93 1)" text-anchor="middle" class="x">30N</text>
<text transform="translate(575.82 323.05) scale(0.93 1)" text-anchor="middle" class="x">60N</text>
<text transform="translate(670.7 323.05) scale(0.93 1)" text-anchor="middle" class="x">90N</text>
<path d="M575.5 32.65 h23" stroke="#3c3494" stroke-width="1.3"/>
<text x="603.9" y="38.75" class="l">MMC</text>
<path d="M575.5 46.9 h23" stroke="#3c3494" stroke-width="1.3" stroke-dasharray="6 1.35 2.45 1.3"/>
<text x="603.9" y="53" class="l">Stat.</text>
<path d="M575.5 61.15 h23" stroke="#3c3494" stroke-width="1.3" stroke-dasharray="2.15 1.3"/>
<text x="603.9" y="67.25" class="l">Tran.</text>
<path d="M575.5 75.4 h23" stroke="#000" stroke-width="1.5"/>
<text x="603.9" y="81.5" class="l">Total</text>
<path d="M575.5 89.65 h23" stroke="#b4b4b4" stroke-width="0.9"/>
<text x="603.9" y="95.75" class="l">Residual</text>
<rect x="593.6" y="261.5" width="71" height="18" fill="#fff"/>
<text x="658.2" y="275.9" text-anchor="end" class="l" style="word-spacing:1.0px">(b) ΔMSE</text>
</g>
<g>
<path d="M136.57 346.45 V630.7 M231.43 346.45 V630.7 M41.7 595.17 H326.3 M41.7 541.87 H326.3 M41.7 488.58 H326.3 M41.7 435.28 H326.3 M41.7 381.98 H326.3" fill="none" stroke="#c2c2c2" stroke-width="0.75" stroke-dasharray="2.8 3.6"/>
<g clip-path="url(#clipc)">
<path d="M42 488.58 L42.81 488.73 L43.95 488.95 L45.29 489.21 L46.71 489.48 L48.08 489.72 L49.26 489.91 L50.28 489.99 L51.22 490 L52.12 489.98 L52.98 489.99 L53.81 490.1 L54.63 490.35 L55.42 490.78 L56.17 491.35 L56.9 492 L57.61 492.7 L58.32 493.41 L59.05 494.08 L59.78 494.74 L60.51 495.44 L61.24 496.14 L61.97 496.81 L62.71 497.44 L63.47 497.99 L64.24 498.47 L65.03 498.89 L65.83 499.27 L66.63 499.6 L67.43 499.88 L68.2 500.12 L68.96 500.31 L69.7 500.44 L70.43 500.52 L71.16 500.58 L71.89 500.62 L72.62 500.66 L73.35 500.68 L74.08 500.67 L74.81 500.64 L75.54 500.62 L76.28 500.62 L77.04 500.66 L77.82 500.74 L78.63 500.85 L79.45 500.99 L80.25 501.13 L81.04 501.26 L81.77 501.37 L82.45 501.48 L83.08 501.61 L83.69 501.73 L84.29 501.81 L84.91 501.82 L85.56 501.72 L86.26 501.5 L86.99 501.18 L87.73 500.78 L88.48 500.33 L89.24 499.87 L89.98 499.41 L90.71 498.95 L91.44 498.47 L92.17 497.97 L92.9 497.45 L93.65 496.92 L94.4 496.39 L95.18 495.85 L95.97 495.28 L96.77 494.71 L97.57 494.13 L98.36 493.57 L99.14 493.02 L99.89 492.46 L100.63 491.9 L101.37 491.35 L102.09 490.82 L102.82 490.33 L103.56 489.91 L104.26 489.56 L104.91 489.27 L105.57 489.02 L106.27 488.81 L107.06 488.6 L107.97 488.4 L109.04 488.19 L110.21 488.01 L111.47 487.84 L112.79 487.67 L114.16 487.5 L115.55 487.33 L117.02 487.14 L118.6 486.94 L120.23 486.73 L121.83 486.54 L123.34 486.38 L124.7 486.27 L125.89 486.19 L126.94 486.13 L127.9 486.1 L128.82 486.11 L129.74 486.16 L130.7 486.27 L131.67 486.45 L132.61 486.7 L133.54 487 L134.51 487.31 L135.55 487.61 L136.7 487.86 L137.97 488.08 L139.33 488.29 L140.76 488.48 L142.24 488.65 L143.74 488.8 L145.22 488.93 L146.71 489.03 L148.23 489.11 L149.76 489.17 L151.3 489.22 L152.84 489.26 L154.38 489.29 L155.92 489.29 L157.5 489.25 L159.07 489.21 L160.62 489.18 L162.12 489.2 L163.53 489.29 L164.85 489.45 L166.08 489.67 L167.26 489.93 L168.42 490.23 L169.59 490.55 L170.79 490.88 L172.04 491.25 L173.29 491.67 L174.56 492.11 L175.83 492.55 L177.1 492.98 L178.37 493.37 L179.63 493.75 L180.89 494.12 L182.16 494.48 L183.42 494.81 L184.68 495.1 L185.94 495.33 L187.21 495.5 L188.47 495.63 L189.73 495.71 L190.99 495.75 L192.26 495.74 L193.52 495.68 L194.78 495.54 L196.05 495.33 L197.31 495.07 L198.57 494.78 L199.83 494.5 L201.1 494.26 L202.36 494.05 L203.62 493.86 L204.88 493.67 L206.15 493.48 L207.41 493.29 L208.67 493.11 L209.94 492.92 L211.21 492.74 L212.48 492.56 L213.75 492.37 L215 492.17 L216.25 491.95 L217.48 491.7 L218.71 491.41 L219.94 491.11 L221.15 490.82 L222.34 490.56 L223.51 490.35 L224.66 490.18 L225.81 490.04 L226.94 489.92 L228.04 489.84 L229.11 489.8 L230.14 489.82 L231.08 489.91 L231.94 490.08 L232.76 490.3 L233.6 490.52 L234.5 490.73 L235.5 490.88 L236.64 490.98 L237.87 491.06 L239.15 491.11 L240.47 491.15 L241.79 491.19 L243.08 491.24 L244.34 491.31 L245.61 491.38 L246.87 491.46 L248.13 491.53 L249.39 491.58 L250.66 491.6 L251.92 491.58 L253.18 491.55 L254.44 491.5 L255.71 491.42 L256.97 491.34 L258.23 491.24 L259.49 491.12 L260.76 490.99 L262.02 490.84 L263.28 490.68 L264.55 490.52 L265.81 490.35 L267.07 490.18 L268.33 490 L269.6 489.81 L270.86 489.62 L272.12 489.44 L273.38 489.29 L274.21 489.14 L274.52 489 L274.82 488.86 L275.65 488.75 L277.52 488.65 L280.96 488.58 L286.83 488.53 L294.9 488.52 L304 488.53 L313.01 488.55 L320.75 488.57 L326.1 488.58" fill="none" stroke="#b4b4b4" stroke-width="0.8" stroke-linejoin="round"/>
<path d="M42 415.74 L46.1 390.69 L50.84 370.43 L56.05 360.31 L60.62 368.12 L65.04 388.73 L69.62 415.38 L72.62 434.39 L75.15 451.27 L80.2 472.23 L84.62 490.35 L89.35 504.74 L93.77 513.09 L98.19 516.82 L102.77 522.51 L107.97 530.32 L112.71 536.36 L117.13 539.38 L122.18 540.63 L126.91 533.88 L132.28 525.35 L136.7 518.07 L142.38 510.43 L146.8 503.68 L151.22 496.92 L155.96 492.31 L160.38 489.82 L165.74 488.22 L170.16 485.55 L174.58 483.25 L179.31 481.02 L183.73 483.25 L188.15 481.29 L192.89 479.87 L197.94 477.74 L202.67 478 L207.09 476.49 L212.46 476.14 L216.88 477.03 L221.61 479.16 L226.03 480.23 L230.14 480.23 L234.24 480.58 L238.66 479.87 L243.08 479.07 L249.08 478.8 L254.44 479.51 L259.81 481.29 L264.23 483.6 L268.65 486 L273.38 488.13 L277.8 489.29 L283.8 489.82 L291.38 489.46 L300.53 489.02 L310.95 488.75 L319.79 488.58 L326.1 488.58" fill="none" stroke="#000" stroke-width="1.35" stroke-linejoin="round"/>
<path d="M42 417.51 L46.1 391.75 L50.84 371.32 L56.05 361.02 L60.62 366.88 L65.04 386.78 L69.62 412.18 L74.2 437.94 L77.04 451.27 L81.77 469.39 L86.19 487.33 L89.98 500.12 L94.4 508.47 L99.14 515.22 L103.56 520.55 L107.97 525.17 L112.71 528.19 L117.13 529.35 L122.18 529.61 L126.91 524.28 L132.28 515.22 L136.7 507.41 L142.38 500.66 L146.8 495.86 L151.22 491.6 L155.96 487.86 L160.38 486.27 L165.74 486.27 L170.16 484.04 L174.58 481.82 L179.31 479.51 L183.73 480.76 L188.15 479.16 L192.89 478 L197.94 476.94 L202.67 478 L207.09 476.14 L212.46 476.14 L216.88 477.21 L221.61 479.51 L226.03 479.16 L230.14 476.49 L231.4 475.25 L236.45 473.47 L240.87 470.9 L245.29 469.21 L250.66 468.5 L255.07 469.21 L259.81 471.16 L264.23 474.72 L268.65 478.8 L273.38 482.53 L277.8 485.55 L282.22 487.51 L286.96 488.93 L292.96 489.64 L300.53 489.64 L308.11 489.29 L318.52 488.93 L322.94 488.58" fill="none" stroke="#a8560f" stroke-width="1.3" stroke-linejoin="round"/>
<path d="M42 488.13 L42.79 488.02 L43.87 487.86 L45.16 487.67 L46.55 487.47 L47.95 487.26 L49.26 487.06 L50.5 486.87 L51.76 486.67 L53.03 486.47 L54.3 486.27 L55.57 486.08 L56.84 485.91 L58.1 485.75 L59.36 485.59 L60.62 485.44 L61.89 485.3 L63.15 485.19 L64.41 485.11 L65.68 485.05 L66.94 485.01 L68.21 484.99 L69.47 485 L70.73 485.04 L71.99 485.11 L73.23 485.23 L74.47 485.38 L75.71 485.57 L76.94 485.78 L78.17 485.98 L79.41 486.18 L80.64 486.36 L81.87 486.53 L83.11 486.71 L84.34 486.9 L85.58 487.1 L86.82 487.33 L88.08 487.58 L89.34 487.84 L90.6 488.11 L91.87 488.41 L93.14 488.74 L94.4 489.11 L95.68 489.51 L96.98 489.96 L98.29 490.43 L99.57 490.92 L100.81 491.43 L101.98 491.95 L103.07 492.47 L104.09 493.01 L105.07 493.56 L106.03 494.13 L106.99 494.72 L107.97 495.33 L108.97 495.97 L109.97 496.65 L110.96 497.34 L111.96 498.04 L112.96 498.74 L113.97 499.41 L114.99 500.07 L116.01 500.74 L117.04 501.39 L118.07 502.03 L119.1 502.65 L120.13 503.23 L121.16 503.79 L122.19 504.32 L123.22 504.84 L124.24 505.32 L125.27 505.76 L126.28 506.16 L127.31 506.52 L128.35 506.85 L129.39 507.13 L130.4 507.38 L131.37 507.59 L132.28 507.76 L133.08 507.9 L133.78 508.01 L134.43 508.07 L135.1 508.09 L135.84 508.05 L136.7 507.94 L137.72 507.75 L138.85 507.47 L140.05 507.14 L141.28 506.77 L142.49 506.38 L143.64 505.99 L144.74 505.59 L145.81 505.18 L146.86 504.74 L147.9 504.29 L148.93 503.81 L149.96 503.32 L150.98 502.8 L151.98 502.26 L152.98 501.7 L153.97 501.13 L154.96 500.54 L155.96 499.95 L156.96 499.33 L157.95 498.7 L158.95 498.06 L159.95 497.42 L160.95 496.77 L161.95 496.13 L162.95 495.48 L163.95 494.84 L164.95 494.19 L165.95 493.55 L166.95 492.92 L167.95 492.31 L168.95 491.72 L169.95 491.15 L170.95 490.59 L171.95 490.04 L172.95 489.49 L173.95 488.93 L174.95 488.36 L175.95 487.78 L176.95 487.19 L177.95 486.62 L178.95 486.07 L179.95 485.55 L180.95 485.07 L181.95 484.6 L182.95 484.16 L183.94 483.74 L184.94 483.35 L185.94 482.98 L186.94 482.63 L187.94 482.31 L188.94 482.02 L189.94 481.75 L190.94 481.51 L191.94 481.29 L192.94 481.11 L193.93 480.96 L194.92 480.83 L195.92 480.73 L196.92 480.65 L197.94 480.58 L198.98 480.53 L200.03 480.5 L201.1 480.49 L202.16 480.5 L203.22 480.53 L204.25 480.58 L205.27 480.64 L206.28 480.72 L207.27 480.81 L208.26 480.94 L209.25 481.09 L210.25 481.29 L211.25 481.53 L212.25 481.81 L213.25 482.12 L214.25 482.47 L215.25 482.84 L216.25 483.25 L217.27 483.69 L218.31 484.19 L219.35 484.71 L220.36 485.25 L221.34 485.77 L222.25 486.27 L223.06 486.72 L223.78 487.15 L224.46 487.58 L225.13 488 L225.86 488.45 L226.67 488.93 L227.59 489.46 L228.61 490.03 L229.66 490.62 L230.72 491.21 L231.74 491.78 L232.66 492.31 L233.49 492.81 L234.25 493.29 L234.97 493.76 L235.67 494.2 L236.36 494.61 L237.08 494.97 L237.81 495.29 L238.54 495.56 L239.27 495.79 L240 496 L240.75 496.2 L241.5 496.39 L242.28 496.57 L243.07 496.74 L243.87 496.89 L244.67 497.03 L245.46 497.16 L246.24 497.28 L246.99 497.39 L247.73 497.5 L248.47 497.59 L249.19 497.67 L249.92 497.75 L250.66 497.81 L251.39 497.87 L252.12 497.92 L252.85 497.96 L253.58 497.98 L254.32 498 L255.07 497.99 L255.85 497.97 L256.64 497.93 L257.44 497.88 L258.24 497.81 L259.04 497.73 L259.81 497.64 L260.56 497.52 L261.31 497.4 L262.04 497.26 L262.77 497.1 L263.5 496.93 L264.23 496.75 L264.96 496.54 L265.69 496.31 L266.42 496.07 L267.15 495.82 L267.89 495.57 L268.65 495.33 L269.42 495.09 L270.22 494.86 L271.02 494.63 L271.82 494.39 L272.61 494.15 L273.38 493.9 L274.14 493.64 L274.88 493.37 L275.61 493.09 L276.34 492.81 L277.07 492.55 L277.8 492.31 L278.54 492.09 L279.26 491.88 L279.99 491.7 L280.73 491.51 L281.47 491.33 L282.22 491.15 L282.98 490.97 L283.73 490.78 L284.49 490.6 L285.27 490.42 L286.09 490.25 L286.96 490.09 L287.87 489.93 L288.8 489.79 L289.78 489.65 L290.79 489.52 L291.85 489.4 L292.96 489.29 L294.09 489.18 L295.26 489.08 L296.47 488.98 L297.74 488.89 L299.09 488.82 L300.53 488.75 L302.22 488.7 L304.18 488.66 L306.21 488.63 L308.14 488.61 L309.78 488.59 L310.95 488.58" fill="none" stroke="#a8560f" stroke-width="1.55" stroke-dasharray="7.2 2.2 2.5 2.3" stroke-linejoin="round"/>
<path d="M42 488.58 L42.79 488.53 L43.87 488.48 L45.16 488.42 L46.55 488.34 L47.95 488.25 L49.26 488.13 L50.5 487.98 L51.76 487.8 L53.03 487.6 L54.3 487.4 L55.57 487.21 L56.84 487.06 L58.1 486.95 L59.36 486.85 L60.62 486.78 L61.89 486.71 L63.15 486.66 L64.41 486.62 L65.68 486.59 L66.94 486.57 L68.21 486.57 L69.47 486.57 L70.73 486.59 L71.99 486.62 L73.23 486.66 L74.47 486.72 L75.71 486.79 L76.94 486.87 L78.17 486.97 L79.41 487.06 L80.64 487.18 L81.87 487.32 L83.11 487.48 L84.34 487.62 L85.58 487.76 L86.82 487.86 L88.08 487.94 L89.34 488 L90.6 488.05 L91.87 488.08 L93.14 488.11 L94.4 488.13 L95.68 488.15 L96.98 488.16 L98.29 488.16 L99.57 488.16 L100.81 488.15 L101.98 488.13 L103.07 488.11 L104.09 488.08 L105.07 488.05 L106.03 488 L106.99 487.94 L107.97 487.86 L108.97 487.77 L109.97 487.65 L110.96 487.52 L111.96 487.38 L112.96 487.22 L113.97 487.06 L114.99 486.9 L116.01 486.72 L117.04 486.54 L118.07 486.34 L119.1 486.13 L120.13 485.91 L121.16 485.68 L122.19 485.43 L123.22 485.17 L124.24 484.9 L125.27 484.61 L126.28 484.31 L127.31 483.98 L128.35 483.63 L129.39 483.26 L130.4 482.88 L131.37 482.52 L132.28 482.18 L133.08 481.86 L133.78 481.55 L134.43 481.26 L135.1 480.97 L135.84 480.68 L136.7 480.4 L137.72 480.11 L138.85 479.81 L140.05 479.51 L141.28 479.24 L142.49 479 L143.64 478.8 L144.74 478.66 L145.81 478.55 L146.86 478.48 L147.9 478.44 L148.93 478.43 L149.96 478.45 L150.98 478.49 L151.98 478.56 L152.98 478.67 L153.97 478.8 L154.96 478.96 L155.96 479.16 L156.96 479.4 L157.95 479.68 L158.95 480 L159.95 480.33 L160.95 480.68 L161.95 481.02 L162.95 481.37 L163.95 481.72 L164.95 482.08 L165.95 482.45 L166.95 482.84 L167.95 483.25 L168.95 483.68 L169.95 484.14 L170.95 484.62 L171.95 485.1 L172.95 485.56 L173.95 486 L174.95 486.41 L175.95 486.8 L176.95 487.18 L177.95 487.55 L178.95 487.89 L179.95 488.22 L180.95 488.53 L181.95 488.82 L182.95 489.09 L183.94 489.35 L184.94 489.59 L185.94 489.82 L186.94 490.04 L187.94 490.24 L188.94 490.43 L189.94 490.6 L190.94 490.75 L191.94 490.88 L192.94 490.99 L193.93 491.07 L194.92 491.13 L195.92 491.17 L196.92 491.21 L197.94 491.24 L198.98 491.26 L200.03 491.28 L201.1 491.28 L202.16 491.28 L203.22 491.26 L204.25 491.24 L205.27 491.21 L206.28 491.17 L207.27 491.13 L208.26 491.07 L209.25 490.99 L210.25 490.88 L211.25 490.75 L212.25 490.59 L213.25 490.41 L214.25 490.21 L215.25 490.01 L216.25 489.82 L217.23 489.62 L218.18 489.41 L219.13 489.2 L220.11 488.98 L221.14 488.77 L222.25 488.58 L223.48 488.38 L224.83 488.18 L226.23 487.99 L227.62 487.81 L228.95 487.65 L230.14 487.51 L231.06 487.4 L231.75 487.31 L232.37 487.24 L233.08 487.18 L234.07 487.12 L235.5 487.06 L237.46 487 L239.83 486.94 L242.47 486.89 L245.24 486.84 L248.02 486.81 L250.66 486.8 L253.22 486.81 L255.82 486.83 L258.43 486.87 L260.99 486.92 L263.47 486.98 L265.81 487.06 L268.01 487.17 L270.1 487.3 L272.1 487.45 L274.04 487.6 L275.93 487.74 L277.8 487.86 L279.6 487.97 L281.31 488.07 L282.97 488.17 L284.64 488.26 L286.37 488.33 L288.22 488.4 L290.34 488.45 L292.73 488.49 L295.18 488.52 L297.49 488.54 L299.45 488.56 L300.85 488.58" fill="none" stroke="#a8560f" stroke-width="1.6" stroke-dasharray="2.6 1.85" stroke-linejoin="round"/>
<path d="M42 415.74 L46.1 390.69 L50.84 370.43 L56.05 360.31 L60.62 368.12 L65.04 388.73 L69.62 415.38 L72.62 434.39 L75.15 451.27" fill="none" stroke="#000" stroke-width="3.4" stroke-linejoin="round" stroke-linecap="butt"/>
<path d="M102.77 522.51 L107.97 530.32 L112.71 536.36 L117.13 539.38 L122.18 540.63 L126.91 533.88 L132.28 525.35 L136.7 518.07 L142.38 510.43" fill="none" stroke="#000" stroke-width="3.4" stroke-linejoin="round" stroke-linecap="butt"/>
<path d="M41.7 488.58 H326.3" stroke="#000" stroke-width="1.0"/>
</g>
<rect x="41.7" y="346.45" width="284.6" height="284.25" fill="none" stroke="#000" stroke-width="1.35"/>
<path d="M41.7 346.45 v-7.6 M41.7 630.7 v7.6 M136.57 346.45 v-7.6 M136.57 630.7 v7.6 M231.43 346.45 v-7.6 M231.43 630.7 v7.6 M326.3 346.45 v-7.6 M326.3 630.7 v7.6 M41.7 595.17 h-7.6 M326.3 595.17 h7.6 M41.7 541.87 h-7.6 M326.3 541.87 h7.6 M41.7 488.58 h-7.6 M326.3 488.58 h7.6 M41.7 435.28 h-7.6 M326.3 435.28 h7.6 M41.7 381.98 h-7.6 M326.3 381.98 h7.6" fill="none" stroke="#000" stroke-width="1.5"/>
<path d="M73.32 346.45 v-3.9 M73.32 630.7 v3.9 M104.94 346.45 v-3.9 M104.94 630.7 v3.9 M168.19 346.45 v-3.9 M168.19 630.7 v3.9 M199.81 346.45 v-3.9 M199.81 630.7 v3.9 M263.06 346.45 v-3.9 M263.06 630.7 v3.9 M294.68 346.45 v-3.9 M294.68 630.7 v3.9 M41.7 630.7 h-3.9 M326.3 630.7 h3.9 M41.7 612.93 h-3.9 M326.3 612.93 h3.9 M41.7 577.4 h-3.9 M326.3 577.4 h3.9 M41.7 559.64 h-3.9 M326.3 559.64 h3.9 M41.7 524.11 h-3.9 M326.3 524.11 h3.9 M41.7 506.34 h-3.9 M326.3 506.34 h3.9 M41.7 470.81 h-3.9 M326.3 470.81 h3.9 M41.7 453.04 h-3.9 M326.3 453.04 h3.9 M41.7 417.51 h-3.9 M326.3 417.51 h3.9 M41.7 399.75 h-3.9 M326.3 399.75 h3.9 M41.7 364.22 h-3.9 M326.3 364.22 h3.9 M41.7 346.45 h-3.9 M326.3 346.45 h3.9" fill="none" stroke="#000" stroke-width="0.8"/>
<text transform="translate(24.3 600.67) scale(0.94 1)" text-anchor="end" class="t">-0.6</text>
<text transform="translate(24.3 547.37) scale(0.94 1)" text-anchor="end" class="t">-0.3</text>
<text transform="translate(24.3 494.08) scale(0.94 1)" text-anchor="end" class="t">0.0</text>
<text transform="translate(24.3 440.78) scale(0.94 1)" text-anchor="end" class="t">0.3</text>
<text transform="translate(24.3 387.48) scale(0.94 1)" text-anchor="end" class="t">0.6</text>
<text transform="translate(41.7 661.75) scale(0.93 1)" text-anchor="middle" class="x">0</text>
<text transform="translate(136.57 661.75) scale(0.93 1)" text-anchor="middle" class="x">30N</text>
<text transform="translate(231.43 661.75) scale(0.93 1)" text-anchor="middle" class="x">60N</text>
<text transform="translate(326.3 661.75) scale(0.93 1)" text-anchor="middle" class="x">90N</text>
<path d="M221.4 367.5 h23" stroke="#a8560f" stroke-width="1.3"/>
<text x="249.8" y="373.6" class="l">MMC</text>
<path d="M221.4 381.75 h23" stroke="#a8560f" stroke-width="1.3" stroke-dasharray="6 1.35 2.45 1.3"/>
<text x="249.8" y="387.85" class="l">Stat.</text>
<path d="M221.4 396 h23" stroke="#a8560f" stroke-width="1.3" stroke-dasharray="2.15 1.3"/>
<text x="249.8" y="402.1" class="l">Tran.</text>
<path d="M221.4 410.25 h23" stroke="#000" stroke-width="1.2"/>
<text x="249.8" y="416.35" class="l">Total</text>
<path d="M221.4 424.5 h23" stroke="#b4b4b4" stroke-width="0.9"/>
<text x="249.8" y="430.6" class="l">Residual</text>
<rect x="249.1" y="600.2" width="71" height="18" fill="#fff"/>
<text x="313.7" y="614.6" text-anchor="end" class="l" style="word-spacing:1.0px">(c) ΔDSE</text>
</g>
<g>
<path d="M480.93 346.45 V630.7 M575.82 346.45 V630.7 M386.05 595.17 H670.7 M386.05 541.87 H670.7 M386.05 488.58 H670.7 M386.05 435.28 H670.7 M386.05 381.98 H670.7" fill="none" stroke="#c2c2c2" stroke-width="0.75" stroke-dasharray="2.8 3.6"/>
<g clip-path="url(#clipd)">
<path d="M386.5 487.86 L387.53 487.84 L388.96 487.79 L390.64 487.74 L392.46 487.7 L394.28 487.68 L395.97 487.69 L397.52 487.74 L399.01 487.82 L400.51 487.92 L402.05 488.03 L403.69 488.13 L405.45 488.22 L404.59 488.29 L400.53 488.36 L396.57 488.43 L395.97 488.49 L402.05 488.54 L418.08 488.58 L449.22 488.6 L493.86 488.6 L545.18 488.6 L596.32 488.59 L640.44 488.58 L670.7 488.58" fill="none" stroke="#b4b4b4" stroke-width="0.8" stroke-linejoin="round"/>
<path d="M386.5 560.88 L390.61 576.69 L395.34 588.06 L400.39 588.42 L405.13 575.45 L408.76 558.39 L411.13 546.31 L414.29 528.55 L417.6 509.89 L420.92 498.35 L424.55 490.09 L428.34 483.25 L432.13 478.63 L436.39 475.61 L442.08 473.47 L447.45 472.05 L451.87 472.05 L458.18 473.83 L464.18 476.32 L470.18 478.63 L476.18 480.76 L481.23 482.53 L486.29 483.42 L491.65 484.76 L496.71 486.09 L501.76 487.15 L506.5 487.86 L511.23 488.58 L517.55 489.29 L523.23 489.64 L532.39 489.64 L541.55 489.46 L550.39 489.11 L559.55 488.58" fill="none" stroke="#55acee" stroke-width="1.3" stroke-linejoin="round"/>
<path d="M386.5 477.74 L386.94 477.57 L387.54 477.31 L388.26 477.02 L389.04 476.75 L389.84 476.56 L390.61 476.49 L391.36 476.55 L392.15 476.68 L392.95 476.89 L393.76 477.18 L394.56 477.55 L395.34 478 L396.09 478.58 L396.83 479.26 L397.55 480.03 L398.28 480.85 L399.01 481.7 L399.76 482.53 L400.54 483.4 L401.33 484.31 L402.13 485.25 L402.93 486.18 L403.72 487.06 L404.5 487.86 L405.25 488.6 L406 489.3 L406.73 489.95 L407.46 490.56 L408.19 491.1 L408.92 491.6 L409.65 492.02 L410.38 492.38 L411.11 492.68 L411.84 492.94 L412.59 493.17 L413.34 493.37 L414.12 493.56 L414.91 493.72 L415.71 493.85 L416.51 493.93 L417.3 493.95 L418.08 493.9 L418.83 493.77 L419.57 493.55 L420.31 493.28 L421.04 492.96 L421.77 492.63 L422.5 492.31 L423.23 491.97 L423.96 491.6 L424.69 491.21 L425.42 490.82 L426.16 490.44 L426.92 490.09 L427.69 489.75 L428.49 489.41 L429.29 489.09 L430.09 488.78 L430.88 488.49 L431.66 488.22 L432.4 487.98 L433.12 487.77 L433.83 487.58 L434.55 487.4 L435.29 487.23 L436.08 487.06 L436.91 486.9 L437.77 486.74 L438.66 486.59 L439.57 486.46 L440.5 486.35 L441.45 486.27 L442.41 486.21 L443.4 486.17 L444.41 486.15 L445.42 486.16 L446.44 486.19 L447.45 486.27 L448.45 486.37 L449.45 486.51 L450.45 486.68 L451.44 486.87 L452.44 487.09 L453.44 487.33 L454.44 487.6 L455.43 487.89 L456.43 488.2 L457.42 488.54 L458.43 488.9 L459.44 489.29 L460.48 489.7 L461.54 490.15 L462.6 490.62 L463.67 491.1 L464.72 491.58 L465.76 492.04 L466.78 492.49 L467.78 492.94 L468.78 493.39 L469.77 493.82 L470.76 494.23 L471.76 494.62 L472.79 494.97 L473.85 495.3 L474.92 495.61 L475.95 495.9 L476.91 496.16 L477.76 496.39 L478.47 496.6 L479.05 496.77 L479.56 496.92 L480.05 497.06 L480.59 497.17 L481.23 497.28 L481.98 497.38 L482.79 497.48 L483.64 497.56 L484.52 497.62 L485.41 497.64 L486.29 497.64 L487.15 497.59 L488.03 497.51 L488.91 497.4 L489.81 497.27 L490.72 497.11 L491.65 496.92 L492.62 496.71 L493.61 496.47 L494.61 496.2 L495.63 495.92 L496.65 495.62 L497.65 495.33 L498.65 495.02 L499.65 494.71 L500.65 494.38 L501.65 494.05 L502.65 493.71 L503.65 493.37 L504.65 493.03 L505.65 492.68 L506.65 492.33 L507.65 491.97 L508.65 491.61 L509.65 491.24 L510.65 490.86 L511.65 490.47 L512.65 490.07 L513.65 489.67 L514.65 489.29 L515.65 488.93 L516.65 488.59 L517.64 488.25 L518.63 487.93 L519.63 487.62 L520.63 487.33 L521.65 487.06 L522.69 486.83 L523.75 486.61 L524.81 486.42 L525.87 486.24 L526.93 486.07 L527.97 485.91 L528.99 485.76 L529.99 485.61 L530.99 485.48 L531.98 485.37 L532.97 485.27 L533.97 485.2 L534.97 485.15 L535.97 485.13 L536.97 485.13 L537.97 485.15 L538.97 485.17 L539.97 485.2 L540.97 485.23 L541.97 485.28 L542.97 485.33 L543.97 485.4 L544.97 485.47 L545.97 485.55 L546.97 485.65 L547.97 485.76 L548.97 485.88 L549.97 486.01 L550.97 486.14 L551.97 486.27 L552.95 486.39 L553.91 486.53 L554.87 486.66 L555.85 486.8 L556.88 486.93 L557.97 487.06 L559.12 487.2 L560.31 487.35 L561.54 487.49 L562.82 487.63 L564.15 487.76 L565.55 487.86 L566.93 487.95 L568.29 488.02 L569.71 488.07 L571.25 488.12 L573 488.17 L575.02 488.22 L577.58 488.28 L580.68 488.35 L583.98 488.42 L587.15 488.48 L589.85 488.54 L591.76 488.58" fill="none" stroke="#55acee" stroke-width="1.55" stroke-dasharray="7.2 2.2 2.5 2.3" stroke-linejoin="round"/>
<path d="M386.5 484.04 L386.94 483.71 L387.54 483.23 L388.26 482.67 L389.04 482.08 L389.84 481.52 L390.61 481.02 L391.36 480.59 L392.15 480.18 L392.95 479.79 L393.76 479.43 L394.56 479.1 L395.34 478.8 L396.09 478.54 L396.83 478.31 L397.55 478.12 L398.28 477.95 L399.01 477.83 L399.76 477.74 L400.54 477.68 L401.33 477.66 L402.13 477.67 L402.93 477.72 L403.72 477.83 L404.5 478 L405.25 478.25 L406 478.57 L406.73 478.94 L407.46 479.35 L408.19 479.79 L408.92 480.23 L409.65 480.69 L410.38 481.18 L411.11 481.7 L411.84 482.23 L412.59 482.75 L413.34 483.25 L414.12 483.73 L414.91 484.22 L415.71 484.69 L416.51 485.16 L417.3 485.59 L418.08 486 L418.83 486.37 L419.57 486.72 L420.31 487.04 L421.04 487.33 L421.77 487.61 L422.5 487.86 L423.22 488.1 L423.94 488.31 L424.65 488.49 L425.38 488.66 L426.13 488.8 L426.92 488.93 L427.75 489.04 L428.62 489.13 L429.5 489.2 L430.42 489.25 L431.35 489.28 L432.29 489.29 L433.25 489.27 L434.23 489.23 L435.23 489.17 L436.24 489.1 L437.26 489.02 L438.29 488.93 L439.33 488.83 L440.38 488.71 L441.45 488.57 L442.51 488.44 L443.57 488.32 L444.6 488.22 L445.62 488.15 L446.63 488.1 L447.62 488.06 L448.61 488.02 L449.61 487.96 L450.6 487.86 L451.6 487.74 L452.6 487.58 L453.6 487.41 L454.6 487.23 L455.6 487.02 L456.6 486.8 L457.6 486.56 L458.6 486.29 L459.6 486 L460.6 485.71 L461.6 485.41 L462.6 485.11 L463.6 484.8 L464.6 484.49 L465.6 484.16 L466.6 483.84 L467.6 483.53 L468.6 483.25 L469.59 482.98 L470.58 482.73 L471.56 482.48 L472.56 482.26 L473.57 482.04 L474.6 481.82 L475.68 481.61 L476.8 481.39 L477.94 481.18 L479.07 480.99 L480.18 480.85 L481.23 480.76 L482.23 480.73 L483.19 480.76 L484.11 480.82 L485.03 480.92 L485.96 481.02 L486.92 481.11 L487.9 481.21 L488.88 481.3 L489.88 481.41 L490.88 481.53 L491.9 481.67 L492.92 481.82 L493.96 482 L495.01 482.19 L496.07 482.4 L497.14 482.62 L498.19 482.84 L499.23 483.07 L500.25 483.3 L501.26 483.53 L502.25 483.78 L503.24 484.02 L504.24 484.26 L505.23 484.49 L506.23 484.71 L507.23 484.92 L508.23 485.12 L509.23 485.32 L510.23 485.53 L511.23 485.73 L512.23 485.94 L513.23 486.16 L514.23 486.38 L515.23 486.59 L516.23 486.79 L517.23 486.98 L518.2 487.14 L519.11 487.3 L520.03 487.44 L521 487.58 L522.05 487.72 L523.23 487.86 L524.58 488.02 L526.05 488.19 L527.61 488.35 L529.22 488.51 L530.83 488.65 L532.39 488.75 L533.88 488.83 L535.34 488.88 L536.79 488.91 L538.28 488.92 L539.86 488.93 L541.55 488.93 L543.38 488.92 L545.34 488.9 L547.37 488.86 L549.44 488.83 L551.51 488.79 L553.55 488.75 L555.56 488.73 L557.6 488.7 L559.64 488.67 L561.66 488.65 L563.64 488.61 L565.55 488.58 L567.28 488.52 L568.82 488.46 L570.32 488.39 L571.92 488.32 L573.75 488.26 L575.97 488.22 L578.63 488.2 L581.65 488.18 L584.91 488.18 L588.28 488.18 L591.66 488.2 L594.91 488.22 L598.29 488.26 L601.93 488.32 L605.57 488.4 L608.95 488.47 L611.8 488.53 L613.86 488.58" fill="none" stroke="#55acee" stroke-width="1.6" stroke-dasharray="2.6 1.85" stroke-linejoin="round"/>
<path d="M386.5 542.76 L390.61 556.08 L395.03 565.68 L400.08 568.7 L405.13 562.12 L409.87 546.31 L414.29 530.68 L414.92 524.82 L419.03 509.01 L422.5 498.35 L426.29 490.09 L430.08 483.25 L433.87 478.8 L437.66 476.14 L442.08 473.83 L447.45 472.23 L451.87 472.23 L458.18 473.47 L464.18 475.78 L470.18 478 L476.18 480.23 L481.23 482.18 L486.29 484.04 L491.65 486.8 L496.71 488.4 L505.23 488.58 L514.07 488.93 L523.23 488.58 L532.39 488.04 L541.55 488.04 L550.39 488.22 L559.55 488.58 L670.7 488.58" fill="none" stroke="#000" stroke-width="1.35" stroke-linejoin="round"/>
<path d="M386.5 542.76 L390.61 556.08 L395.03 565.68 L400.08 568.7 L405.13 562.12 L409.87 546.31 L414.29 530.68 L414.92 524.82 L419.03 509.01" fill="none" stroke="#000" stroke-width="3.4" stroke-linejoin="round" stroke-linecap="butt"/>
<path d="M437.66 476.14 L442.08 473.83 L447.45 472.23 L451.87 472.23 L458.18 473.47 L464.18 475.78 L470.18 478 L476.18 480.23 L481.23 482.18 L486.29 484.04" fill="none" stroke="#000" stroke-width="3.4" stroke-linejoin="round" stroke-linecap="butt"/>
<path d="M386.05 488.58 H670.7" stroke="#000" stroke-width="1.0"/>
</g>
<rect x="386.05" y="346.45" width="284.65" height="284.25" fill="none" stroke="#000" stroke-width="1.35"/>
<path d="M386.05 346.45 v-7.6 M386.05 630.7 v7.6 M480.93 346.45 v-7.6 M480.93 630.7 v7.6 M575.82 346.45 v-7.6 M575.82 630.7 v7.6 M670.7 346.45 v-7.6 M670.7 630.7 v7.6 M386.05 595.17 h-7.6 M670.7 595.17 h7.6 M386.05 541.87 h-7.6 M670.7 541.87 h7.6 M386.05 488.58 h-7.6 M670.7 488.58 h7.6 M386.05 435.28 h-7.6 M670.7 435.28 h7.6 M386.05 381.98 h-7.6 M670.7 381.98 h7.6" fill="none" stroke="#000" stroke-width="1.5"/>
<path d="M417.68 346.45 v-3.9 M417.68 630.7 v3.9 M449.31 346.45 v-3.9 M449.31 630.7 v3.9 M512.56 346.45 v-3.9 M512.56 630.7 v3.9 M544.19 346.45 v-3.9 M544.19 630.7 v3.9 M607.44 346.45 v-3.9 M607.44 630.7 v3.9 M639.07 346.45 v-3.9 M639.07 630.7 v3.9 M386.05 630.7 h-3.9 M670.7 630.7 h3.9 M386.05 612.93 h-3.9 M670.7 612.93 h3.9 M386.05 577.4 h-3.9 M670.7 577.4 h3.9 M386.05 559.64 h-3.9 M670.7 559.64 h3.9 M386.05 524.11 h-3.9 M670.7 524.11 h3.9 M386.05 506.34 h-3.9 M670.7 506.34 h3.9 M386.05 470.81 h-3.9 M670.7 470.81 h3.9 M386.05 453.04 h-3.9 M670.7 453.04 h3.9 M386.05 417.51 h-3.9 M670.7 417.51 h3.9 M386.05 399.75 h-3.9 M670.7 399.75 h3.9 M386.05 364.22 h-3.9 M670.7 364.22 h3.9 M386.05 346.45 h-3.9 M670.7 346.45 h3.9" fill="none" stroke="#000" stroke-width="0.8"/>
<text transform="translate(368.65 600.67) scale(0.94 1)" text-anchor="end" class="t">-0.6</text>
<text transform="translate(368.65 547.37) scale(0.94 1)" text-anchor="end" class="t">-0.3</text>
<text transform="translate(368.65 494.08) scale(0.94 1)" text-anchor="end" class="t">0.0</text>
<text transform="translate(368.65 440.78) scale(0.94 1)" text-anchor="end" class="t">0.3</text>
<text transform="translate(368.65 387.48) scale(0.94 1)" text-anchor="end" class="t">0.6</text>
<text transform="translate(386.05 661.75) scale(0.93 1)" text-anchor="middle" class="x">0</text>
<text transform="translate(480.93 661.75) scale(0.93 1)" text-anchor="middle" class="x">30N</text>
<text transform="translate(575.82 661.75) scale(0.93 1)" text-anchor="middle" class="x">60N</text>
<text transform="translate(670.7 661.75) scale(0.93 1)" text-anchor="middle" class="x">90N</text>
<path d="M575.5 367.5 h23" stroke="#55acee" stroke-width="1.3"/>
<text x="603.9" y="373.6" class="l">MMC</text>
<path d="M575.5 381.75 h23" stroke="#55acee" stroke-width="1.3" stroke-dasharray="6 1.35 2.45 1.3"/>
<text x="603.9" y="387.85" class="l">Stat.</text>
<path d="M575.5 396 h23" stroke="#55acee" stroke-width="1.3" stroke-dasharray="2.15 1.3"/>
<text x="603.9" y="402.1" class="l">Tran.</text>
<path d="M575.5 410.25 h23" stroke="#000" stroke-width="1.2"/>
<text x="603.9" y="416.35" class="l">Total</text>
<path d="M575.5 424.5 h23" stroke="#b4b4b4" stroke-width="0.9"/>
<text x="603.9" y="430.6" class="l">Residual</text>
<rect x="593.6" y="600.2" width="71" height="18" fill="#fff"/>
<text x="658.2" y="614.6" text-anchor="end" class="l" style="word-spacing:1.0px">(d) ΔLE</text>
</g>
</svg></body></html>
